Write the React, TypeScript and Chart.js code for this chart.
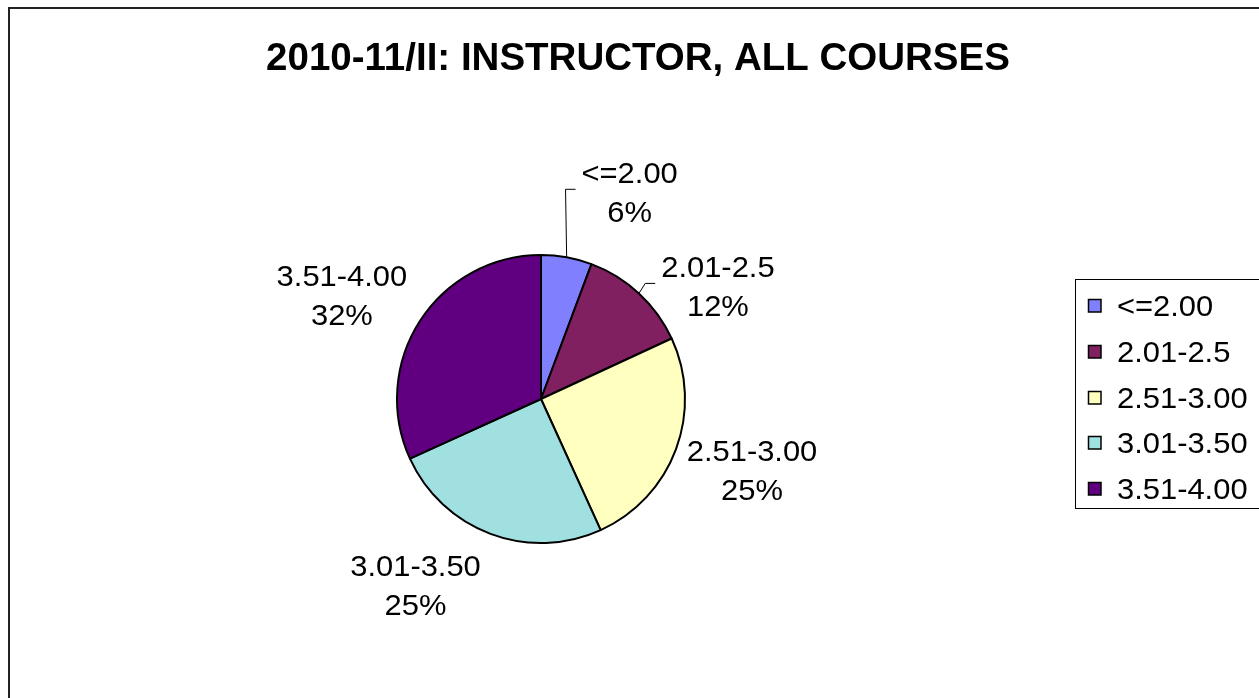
import React, { useEffect, useRef } from "react";
import { Chart, registerables } from "chart.js";

Chart.register(...registerables);

// ---- data ----
const categories = ["<=2.00", "2.01-2.5", "2.51-3.00", "3.01-3.50", "3.51-4.00"];
const shares = [5.7, 12.4, 25.1, 25.0, 31.8];
const sliceColors = ["#8080FF", "#802060", "#FFFFC0", "#A0E0E0", "#600080"];
const titleText = "2010-11/II: INSTRUCTOR, ALL COURSES";

// ---- style: label placement relative to each slice's outer mid point ----
const labelOffsets: number[][] = [
  [63, -65],
  [79, -7],
  [76, 20.5],
  [-75, 51],
  [-78, -26.5],
];
const leaderLines = [true, true, false, false, false];

const W = 1259;
const H = 698;
const FONT = '"Liberation Sans", Arial, Helvetica, sans-serif';
const SX = 1.03;

function drawScaled(ctx: CanvasRenderingContext2D, text: string, x: number, y: number, align: CanvasTextAlign) {
  ctx.save();
  ctx.translate(x, y);
  ctx.scale(SX, 1);
  ctx.textAlign = align;
  ctx.textBaseline = "alphabetic";
  ctx.fillText(text, 0, 0);
  ctx.restore();
}

const decorPlugin = {
  id: "decor",
  afterDraw(chart: any) {
    const ctx: CanvasRenderingContext2D = chart.ctx;
    ctx.save();

    // outer frame
    ctx.strokeStyle = "#222";
    ctx.lineWidth = 2;
    ctx.strokeRect(9, 8, 1400, 900);

    // title
    ctx.fillStyle = "#000";
    ctx.font = `bold 38.5px ${FONT}`;
    ctx.textAlign = "center";
    ctx.textBaseline = "alphabetic";
    ctx.fillText(titleText, 638, 70);

    // data labels
    const meta = chart.getDatasetMeta(0);
    const data: number[] = chart.data.datasets[0].data;
    const total = data.reduce((a, b) => a + b, 0);
    ctx.font = `30px ${FONT}`;
    meta.data.forEach((arc: any, i: number) => {
      const { x, y, startAngle, endAngle, outerRadius } = arc.getProps(
        ["x", "y", "startAngle", "endAngle", "outerRadius"],
        true
      );
      const mid = (startAngle + endAngle) / 2;
      const px = x + Math.cos(mid) * outerRadius;
      const py = y + Math.sin(mid) * outerRadius;
      const cx = px + labelOffsets[i][0];
      const cy = py + labelOffsets[i][1];
      const l1 = String(chart.data.labels[i]);
      const l2 = Math.round((data[i] / total) * 100) + "%";
      const w = Math.max(ctx.measureText(l1).width, ctx.measureText(l2).width) * SX;
      ctx.fillStyle = "#000";
      drawScaled(ctx, l1, cx, cy - 9, "center");
      drawScaled(ctx, l2, cx, cy + 30, "center");
      if (leaderLines[i]) {
        const left = cx - w / 2;
        ctx.strokeStyle = "#000";
        ctx.lineWidth = 1;
        ctx.beginPath();
        ctx.moveTo(px, py);
        ctx.lineTo(left - 16, cy - 3);
        ctx.lineTo(left - 6, cy - 3);
        ctx.stroke();
      }
    });

    // legend
    ctx.strokeStyle = "#000";
    ctx.lineWidth = 1;
    ctx.strokeRect(1075.5, 279.5, 400, 229);
    const colors: string[] = chart.data.datasets[0].backgroundColor;
    (chart.data.labels as string[]).forEach((lab, i) => {
      const top = Math.round(299 + 45.75 * i);
      ctx.fillStyle = colors[i];
      ctx.fillRect(1088, top, 13, 13);
      ctx.strokeStyle = "#000";
      ctx.lineWidth = 1.5;
      ctx.strokeRect(1088.5, top + 0.5, 12.5, 12.5);
      ctx.fillStyle = "#000";
      drawScaled(ctx, lab, 1117, top + 17, "left");
    });

    ctx.restore();
  },
};

export default function App() {
  const ref = useRef<HTMLCanvasElement | null>(null);

  useEffect(() => {
    if (!ref.current) return;
    const chart = new Chart(ref.current, {
      type: "pie",
      data: {
        labels: categories,
        datasets: [
          {
            data: shares,
            backgroundColor: sliceColors,
            borderColor: "#000",
            borderWidth: 2,
            hoverOffset: 0,
          },
        ],
      },
      options: {
        responsive: false,
        maintainAspectRatio: false,
        animation: false,
        devicePixelRatio: 1,
        layout: { padding: { left: 396, right: 573, top: 254, bottom: 154 } },
        plugins: {
          legend: { display: false },
          tooltip: { enabled: false },
          title: { display: false },
        },
      },
      plugins: [decorPlugin],
    });
    return () => chart.destroy();
  }, []);

  return (
    <div style={{ position: "fixed", left: 0, top: 0, width: W, height: H, background: "#fff" }}>
      <canvas ref={ref} width={W} height={H} style={{ display: "block" }} />
    </div>
  );
}
